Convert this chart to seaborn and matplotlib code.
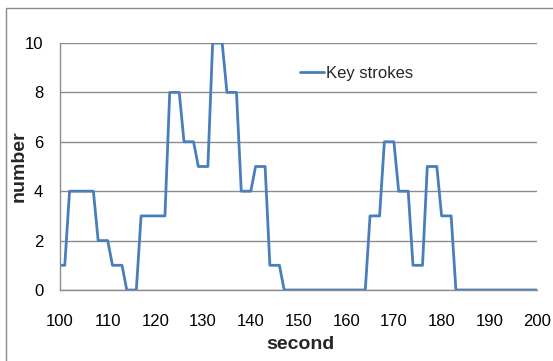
import matplotlib
matplotlib.use("Agg")
import matplotlib.pyplot as plt
import seaborn as sns
import pandas as pd
from matplotlib.patches import Rectangle

seconds = list(range(100, 201))
key_strokes = [
    1, 1, 4, 4, 4, 4, 4, 4, 2, 2,        # 100-109
    2, 1, 1, 1, 0, 0, 0, 3, 3, 3,        # 110-119
    3, 3, 3, 8, 8, 8, 6, 6, 6, 5,        # 120-129
    5, 5, 10, 10, 10, 8, 8, 8, 4, 4,     # 130-139
    4, 5, 5, 5, 1, 1, 1, 0, 0, 0,        # 140-149
    0, 0, 0, 0, 0, 0, 0, 0, 0, 0,        # 150-159
    0, 0, 0, 0, 0, 3, 3, 3, 6, 6,        # 160-169
    6, 4, 4, 4, 1, 1, 1, 5, 5, 5,        # 170-179
    3, 3, 3, 0, 0, 0, 0, 0, 0, 0,        # 180-189
    0, 0, 0, 0, 0, 0, 0, 0, 0, 0,        # 190-199
    0,                                   # 200
]
x_ticks = [100, 110, 120, 130, 140, 150, 160, 170, 180, 190, 200]
y_ticks = [0, 2, 4, 6, 8, 10]
series_name = "Key strokes"
x_label = "second"
y_label = "number"

df = pd.DataFrame({"second": seconds, "value": key_strokes})

sns.set_style("white")
plt.rcParams["font.family"] = ["Liberation Sans", "DejaVu Sans"]

fig = plt.figure(figsize=(5.53, 3.61), dpi=100)
ax = fig.add_axes([60 / 553, 1 - 290 / 361, (537 - 60) / 553, (290 - 43) / 361])

sns.lineplot(data=df, x="second", y="value", ax=ax, color="#4A7EBB",
             linewidth=2.0, label=series_name)

ax.set_xlim(100, 200)
ax.set_ylim(0, 10)
ax.set_xticks(x_ticks)
ax.set_yticks(y_ticks)
ax.tick_params(axis="both", length=0, labelsize=12, colors="black")
ax.tick_params(axis="x", pad=17)
ax.tick_params(axis="y", pad=12)
ax.grid(axis="y", color="#8C8C8C", linewidth=1.0)
ax.set_axisbelow(True)
for s in ["top", "right"]:
    ax.spines[s].set_visible(False)
ax.spines["left"].set_color("#8C8C8C")
ax.spines["bottom"].set_color("#8C8C8C")
ax.spines["left"].set_linewidth(1.0)
ax.spines["bottom"].set_linewidth(1.0)

ax.set_xlabel(x_label, fontsize=14, fontweight="bold")
ax.set_ylabel(y_label, fontsize=14, fontweight="bold")
ax.xaxis.set_label_coords(0.503, -0.185)
ax.yaxis.set_label_coords(-0.068, 0.50)

leg = ax.legend(loc="upper left", bbox_to_anchor=(0.49, 0.935), frameon=False,
                fontsize=12, handlelength=1.4, handletextpad=0.15,
                borderaxespad=0)

# chart-area border
fig.patches.append(Rectangle((6 / 553, -0.05), 1.2, 1 - 8 / 361 + 0.05,
                             transform=fig.transFigure, fill=False,
                             edgecolor="#8C8C8C", linewidth=1.0))

fig.savefig("out.png", dpi=100)
